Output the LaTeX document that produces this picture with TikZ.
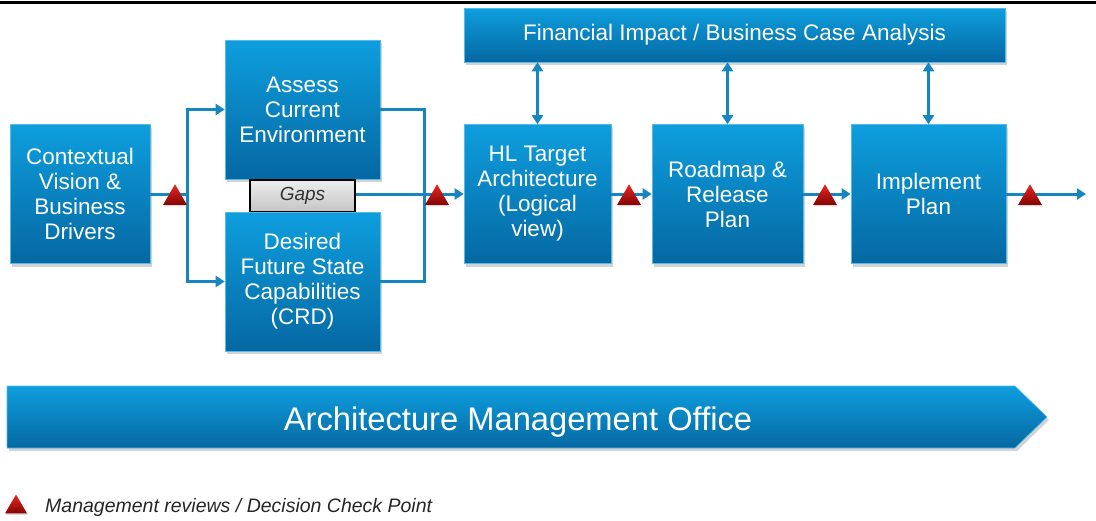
\documentclass[tikz,border=0pt]{standalone}
\usepackage{fontspec}
\setmainfont{Liberation Sans}
\usetikzlibrary{arrows.meta,shadows,shapes.geometric}

\definecolor{amotop}{RGB}{14,158,222}
\definecolor{amobottom}{RGB}{5,104,162}
\definecolor{amoline}{RGB}{22,134,194}
\definecolor{ckptop}{RGB}{230,40,34}
\definecolor{ckpbottom}{RGB}{132,4,4}
\definecolor{gaptop}{RGB}{238,238,238}
\definecolor{gapbottom}{RGB}{196,196,196}

\newcommand\amoboxstyle{\fontsize{22.5}{25}\selectfont}
\newcommand\amofinstyle{\fontsize{22.5}{25}\selectfont}
\newcommand\amobarstyle{\fontsize{32.7}{36}\selectfont}
\newcommand\amonotestyle{\fontsize{19.5}{21}\selectfont\itshape}
\newcommand\amogapstyle{\fontsize{19}{21}\selectfont\itshape}
\newcommand\amoboxheight{139pt}
\newcommand\checkpoint[2]{
  \node[checkpt] (#1) at (#2) {} ;
}

\tikzset{
  amobox/.style={draw=amotop!70!white, line width=.6pt, top color=amotop, bottom color=amobottom,
    text=white, align=center, inner sep=2pt, minimum height=\amoboxheight, font=\amoboxstyle,
    drop shadow={shadow xshift=2pt, shadow yshift=-3pt, opacity=.35}},
  gapbox/.style={draw=black, line width=1.2pt, top color=gaptop, bottom color=gapbottom,
    text=black!80, font=\amogapstyle, minimum width=105pt, minimum height=32pt, inner sep=0pt},
  flowline/.style={draw=amoline, line width=3pt, >={Triangle[length=9pt,width=11pt]}},
  checkpt/.style={regular polygon, regular polygon sides=3, minimum size=27.5pt, inner sep=0pt,
    top color=ckptop, bottom color=ckpbottom, drop shadow={shadow xshift=1pt, shadow yshift=-1.5pt, opacity=.3}},
  amobar/.style={top color=amotop, bottom color=amobottom, draw=amotop!70!white, line width=.6pt,
    drop shadow={shadow xshift=2pt, shadow yshift=-3pt, opacity=.35}},
}

\begin{document}
\begin{tikzpicture}[x=1pt, y=-1pt]
    \useasboundingbox (0,0) rectangle (1096,520) ;
    \draw[line width=3pt] (0,2) -- (1096,2) ;

    \node[amobox, minimum width=140pt] (ctx) at (80,194) {Contextual\\Vision \&\\Business\\Drivers} ;
    \node[amobox, minimum width=155pt] (assess) at (302.5,109.5) {Assess\\Current\\Environment} ;
    \node[gapbox] (gaps) at (302.5,196) {Gaps} ;
    \node[amobox, minimum width=155pt] (desired) at (302.5,281.5) {Desired\\Future State\\Capabilities\\(CRD)} ;
    \node[amobox, minimum width=541pt, minimum height=54pt, font=\amofinstyle] (fin) at (734.5,35) {Financial Impact / Business Case Analysis} ;
    \node[amobox, minimum width=147pt] (hl) at (537.5,194) {HL Target\\Architecture\\(Logical\\view)} ;
    \node[amobox, minimum width=151pt] (road) at (727.5,194) {Roadmap \&\\Release\\Plan} ;
    \node[amobox, minimum width=155pt] (impl) at (928.5,194) {Implement\\Plan} ;

    \coordinate (split) at (187,194) ;
    \coordinate (join) at (424,194) ;
    \coordinate (flowend) at (1086,194) ;
    \draw[flowline] (ctx.east) -- (split) ;
    \draw[flowline, ->] (split) |- (assess.west) ;
    \draw[flowline, ->] (split) |- (desired.west) ;
    \draw[flowline] (assess.east) -| (join) |- (desired.east) ;
    \draw[flowline, ->] (gaps.east |- join) -- (hl.west) ;
    \draw[flowline, ->] (hl.east) -- (road.west) ;
    \draw[flowline, ->] (road.east) -- (impl.west) ;
    \draw[flowline, ->] (impl.east) -- (flowend) ;
    \draw[flowline, <->] (hl.north) -- (hl.north |- fin.south) ;
    \draw[flowline, <->] (road.north) -- (road.north |- fin.south) ;
    \draw[flowline, <->] (impl.north) -- (impl.north |- fin.south) ;

    \checkpoint{ckpctx}{175,198}
    \checkpoint{ckpgaps}{437,198}
    \checkpoint{ckphl}{629,198}
    \checkpoint{ckproad}{825,198}
    \checkpoint{ckpimpl}{1030,198}

    \path[amobar] (7,386) -- (1015,386) -- (1047,417) -- (1015,448) -- (7,448) -- cycle ;
    \node[anchor=base, text=white, font=\amobarstyle, inner sep=0pt] (amo) at (518,430) {Architecture Management Office} ;

    % legend
    \node[checkpt, minimum size=25pt] (ckpnote) at (16,507) {} ;
    \node[anchor=west, font=\amonotestyle, text=black!85, inner sep=0pt] (note) at (45,507) {Management reviews / Decision Check Point} ;
\end{tikzpicture}
\end{document}
